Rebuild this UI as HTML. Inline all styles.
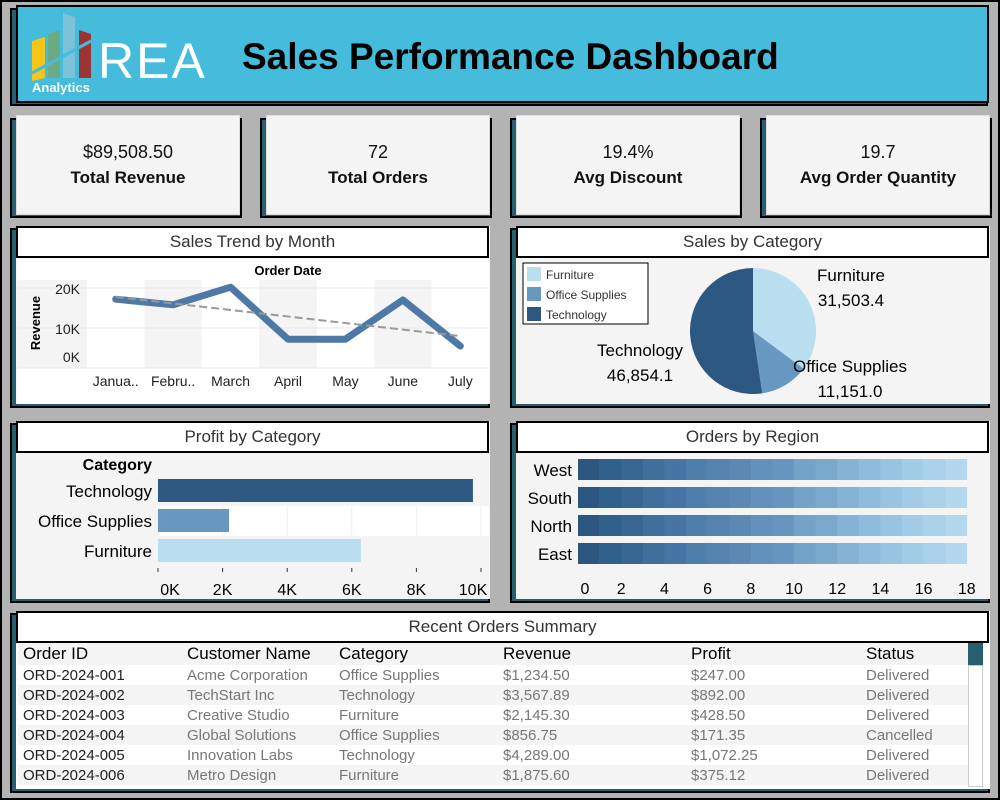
<!DOCTYPE html>
<html><head><meta charset="utf-8">
<style>
*{box-sizing:border-box;margin:0;padding:0}
body{width:1000px;height:800px;background:#b3b3b3;font-family:"Liberation Sans",sans-serif;position:relative;overflow:hidden}
#frame{position:absolute;left:0;top:0;width:1000px;height:800px;border:2px solid #000}
.abs{position:absolute}
.shadow{position:absolute;background:#275f6e;border:2px solid #000}
.card{position:absolute;background:#f4f4f4;border:1px solid #ddd}
.kpi{text-align:center;color:#111}
.kpi .v{font-size:18px;margin-top:26px}
.kpi .l{font-size:17px;font-weight:bold;margin-top:5px}
.ptitle{position:absolute;background:#fff;border:2px solid #000;text-align:center;font-size:17px;color:#333;line-height:28px}
.pbody{position:absolute;background:#f4f4f4}
table{border-collapse:collapse;font-size:15px}
</style></head><body>
<div id="frame"></div>

<!-- header -->
<div class="shadow" style="left:10px;top:8px;width:978px;height:98px"></div>
<div class="abs" style="left:16px;top:5px;width:973px;height:98px;background:#45bcdc;border:2px solid #000">
  <svg class="abs" style="left:0;top:0" width="200" height="95">
    <polygon points="14,34 27,30 27,71 14,74" fill="#f5c518"/>
    <polygon points="30,27 42,23 42,71 30,71" fill="#6aab84"/>
    <polygon points="45,6 57,10 57,71 45,71" fill="#7cc3da"/>
    <polygon points="61,23 73,27 73,71 61,71" fill="#9b3434"/>
    <line x1="14" y1="66" x2="73" y2="34" stroke="#45bcdc" stroke-width="3"/>
    <text x="80" y="71" font-family="Liberation Sans,sans-serif" font-size="50" letter-spacing="2" fill="#fff">REA</text>
    <text x="14" y="85" font-family="Liberation Sans,sans-serif" font-size="13" font-weight="bold" fill="#fff">Analytics</text>
  </svg>
  <div class="abs" style="left:224px;top:29px;font-size:37px;font-weight:bold;color:#000">Sales Performance Dashboard</div>
</div>

<!-- KPIs -->
<div class="shadow" style="left:10px;top:118px;width:232px;height:100px"></div>
<div class="card kpi" style="left:16px;top:115px;width:224px;height:100px"><div class="v">$89,508.50</div><div class="l">Total Revenue</div></div>
<div class="shadow" style="left:260px;top:118px;width:232px;height:100px"></div>
<div class="card kpi" style="left:266px;top:115px;width:224px;height:100px"><div class="v">72</div><div class="l">Total Orders</div></div>
<div class="shadow" style="left:510px;top:118px;width:232px;height:100px"></div>
<div class="card kpi" style="left:516px;top:115px;width:224px;height:100px"><div class="v">19.4%</div><div class="l">Avg Discount</div></div>
<div class="shadow" style="left:760px;top:118px;width:232px;height:100px"></div>
<div class="card kpi" style="left:766px;top:115px;width:224px;height:100px"><div class="v">19.7</div><div class="l">Avg Order Quantity</div></div>

<!-- panels -->
<div class="shadow" style="left:10px;top:228px;width:480px;height:180px"></div>
<div class="pbody" style="left:16px;top:226px;width:474px;height:178px"></div>
<div class="ptitle" style="left:16px;top:226px;width:473px;height:32px">Sales Trend by Month</div>

<div class="shadow" style="left:510px;top:228px;width:480px;height:180px"></div>
<div class="pbody" style="left:516px;top:226px;width:474px;height:178px"></div>
<div class="ptitle" style="left:516px;top:226px;width:473px;height:32px">Sales by Category</div>

<div class="shadow" style="left:10px;top:423px;width:480px;height:180px"></div>
<div class="pbody" style="left:16px;top:421px;width:474px;height:178px"></div>
<div class="ptitle" style="left:16px;top:421px;width:473px;height:32px">Profit by Category</div>

<div class="shadow" style="left:510px;top:423px;width:480px;height:180px"></div>
<div class="pbody" style="left:516px;top:421px;width:474px;height:178px"></div>
<div class="ptitle" style="left:516px;top:421px;width:473px;height:32px">Orders by Region</div>

<div class="shadow" style="left:10px;top:613px;width:980px;height:180px"></div>
<div class="pbody" style="left:16px;top:611px;width:974px;height:178px;background:#fff"></div>
<div class="ptitle" style="left:16px;top:611px;width:973px;height:32px">Recent Orders Summary</div>

<svg id="charts" class="abs" style="left:0;top:0" width="1000" height="800"></svg>

<!-- table -->
<div class="abs" style="left:18px;top:643px;width:950px;height:146px;overflow:hidden">
<table id="tbl" style="width:950px;table-layout:fixed"></table>
</div>
<div class="abs" style="left:968px;top:643px;width:15px;height:22px;background:#275f6e"></div>
<div class="abs" style="left:968px;top:665px;width:15px;height:122px;background:#fff;border:1px solid #ccc"></div>

<script>
const NS="http://www.w3.org/2000/svg";
const svg=document.getElementById('charts');
function mk(tag,attrs,parent){const e=document.createElementNS(NS,tag);for(const k in attrs)e.setAttribute(k,attrs[k]);(parent||svg).appendChild(e);return e;}
function txt(x,y,s,attrs){const e=mk('text',Object.assign({x:x,y:y,'font-family':'Liberation Sans,sans-serif'},attrs||{}));e.textContent=s;return e;}

// ---- Sales trend data ----
const months=["Janua..","Febru..","March","April","May","June","July"];
const revenue=[17200,15800,20200,7200,7200,17000,5500];
const revTicks=[0,10000,20000];
const revTickLabels=["0K","10K","20K"];

// ---- Sales by category ----
const pieCats=["Furniture","Office Supplies","Technology"];
const pieVals=[31503.4,11151.0,46854.1];
const pieLabels=["31,503.4","11,151.0","46,854.1"];

// ---- Profit by category ----
const profitCats=["Technology","Office Supplies","Furniture"];
const profitVals=[9750,2200,6280];
const profitTicks=[0,2000,4000,6000,8000,10000];
const profitTickLabels=["0K","2K","4K","6K","8K","10K"];

// ---- Orders by region ----
const regions=["West","South","North","East"];
const regionOrders=[18,18,18,18];
const regionTicks=[0,2,4,6,8,10,12,14,16,18];

// ---- Table ----
const orderIds=["ORD-2024-001","ORD-2024-002","ORD-2024-003","ORD-2024-004","ORD-2024-005","ORD-2024-006"];
const customers=["Acme Corporation","TechStart Inc","Creative Studio","Global Solutions","Innovation Labs","Metro Design"];
const categories=["Office Supplies","Technology","Furniture","Office Supplies","Technology","Furniture"];
const revenues=["$1,234.50","$3,567.89","$2,145.30","$856.75","$4,289.00","$1,875.60"];
const profits=["$247.00","$892.00","$428.50","$171.35","$1,072.25","$375.12"];
const statuses=["Delivered","Delivered","Delivered","Cancelled","Delivered","Delivered"];

const colors={"Furniture":"#b9def0","Office Supplies":"#6898c0","Technology":"#2c5882"};

// ===== Line chart =====
(function(){
  const px0=87,px1=489,ptop=280,pbot=368;
  mk('rect',{x:17,y:259,width:472,height:21,fill:'#fff'});
  mk('rect',{x:px0,y:ptop,width:px1-px0,height:pbot-ptop,fill:'#fff'});
  mk('rect',{x:17,y:pbot,width:472,height:36,fill:'#fff'});
  const cw=(px1-px0)/months.length;
  const xs=i=>px0+cw*(i+0.5);
  const ys=v=>368-v*0.004;
  months.forEach((m,i)=>{
    if(i%2===1){const r=mk('rect',{x:px0+cw*i,y:ptop,width:cw,height:pbot-ptop,fill:'#f4f4f4'});
      }
    const t=txt(xs(i),386,m,{'font-size':14,'text-anchor':'middle',fill:'#222'});
    
  });
  revTicks.forEach((v,i)=>{
    mk('line',{x1:17,x2:px1,y1:ys(v),y2:ys(v),stroke:'#e8e8e8','stroke-width':1});
    const t=txt(80,ys(v)+(v===0?-6:6),revTickLabels[i],{'font-size':14,'text-anchor':'end',fill:'#222'});
    
  });
  const ot=txt((px0+px1)/2,275,"Order Date",{'font-size':13,'font-weight':'bold','text-anchor':'middle',fill:'#000'});
  
  const yt=txt(0,0,"Revenue",{'font-size':13,'font-weight':'bold','text-anchor':'middle',fill:'#000',transform:'translate(40,323) rotate(-90)'});
  
  const pts=revenue.map((v,i)=>xs(i)+','+ys(v)).join(' ');
  const pl=mk('polyline',{points:pts,fill:'none',stroke:'#4e79a7','stroke-width':7,'stroke-linejoin':'round','stroke-linecap':'round'});
  
  const n=revenue.length;let sx=0,sy=0,sxy=0,sxx=0;
  revenue.forEach((v,i)=>{sx+=i;sy+=v;sxy+=i*v;sxx+=i*i;});
  const b=(n*sxy-sx*sy)/(n*sxx-sx*sx),a=(sy-b*sx)/n;
  const tl=mk('line',{x1:xs(0),y1:ys(a),x2:xs(n-1),y2:ys(a+b*(n-1)),stroke:'#999','stroke-width':2,'stroke-dasharray':'8,4'});
  
})();

// ===== Pie =====
(function(){
  const cx=753,cy=331,r=63;const total=pieVals.reduce((a,b)=>a+b,0);
  let ang=0;
  pieVals.forEach((v,i)=>{
    const a0=ang,a1=ang+v/total*2*Math.PI;ang=a1;
    const p=(a)=>[cx+r*Math.sin(a),cy-r*Math.cos(a)];
    const [x0,y0]=p(a0),[x1,y1]=p(a1);
    const s=mk('path',{d:`M${cx},${cy} L${x0},${y0} A${r},${r} 0 ${a1-a0>Math.PI?1:0} 1 ${x1},${y1} Z`,fill:colors[pieCats[i]]});
    
    
  });
  const lp=[[851,281],[850,372],[640,356]];
  pieCats.forEach((c,i)=>{
    const t1=txt(lp[i][0],lp[i][1],c,{'font-size':17,'text-anchor':'middle',fill:'#000'});
    
    const t2=txt(lp[i][0],lp[i][1]+25,pieLabels[i],{'font-size':17,'text-anchor':'middle',fill:'#000'});
    
  });
  const lg=mk('rect',{x:523,y:263,width:125,height:61,fill:'#fff',stroke:'#000','stroke-width':1});
  
  pieCats.forEach((c,i)=>{
    mk('rect',{x:527,y:267+i*20,width:14,height:14,fill:colors[c]});
    const t=txt(546,279+i*20,c,{'font-size':12,fill:'#333'});
    
  });
})();

// ===== Profit bars =====
(function(){
  const x0=158,k=0.0323;const xs=v=>x0+v*k;
  mk('rect',{x:158,y:506,width:331,height:30,fill:'#fff'});
  profitTicks.forEach((v,i)=>{
    mk('line',{x1:xs(v),x2:xs(v),y1:506,y2:536,stroke:'#eee'});
    mk('line',{x1:xs(v),x2:xs(v),y1:568,y2:572,stroke:'#333'});
    const t=txt(xs(v)+(i===0?12:i===5?-8:0),595,profitTickLabels[i],{'font-size':16,'text-anchor':'middle',fill:'#000'});
    
  });
  const ht=txt(152,470,"Category",{'font-size':16,'font-weight':'bold','text-anchor':'end',fill:'#000'});
  
  profitCats.forEach((c,i)=>{
    const y=479+i*30;
    const b=mk('rect',{x:x0,y:y,width:xs(profitVals[i])-x0,height:23,fill:colors[c]});
    
    const t=txt(152,y+18,c,{'font-size':17,'text-anchor':'end',fill:'#000'});
    
  });
})();

// ===== Orders by region =====
(function(){
  const x0=578,k=21.6;const xs=v=>x0+v*k;
  const shades=["#2c5680","#30608c","#386693","#3f6f9d","#4674a4","#4e7eab","#5583b0","#5b89b4","#6191bc","#6797c0","#73a3c9","#79a9cd","#84b3d6","#8dbbdb","#97c4e1","#a1cce7","#a9d1ea","#b3d8ee"];
  regions.forEach((r,ri)=>{
    const y=459+ri*28;
    for(let j=0;j<regionOrders[ri];j++){
      const s=mk('rect',{x:xs(j),y:y,width:k+0.3,height:21,fill:shades[j%shades.length]});
      
    }
    const t=txt(572,y+17,r,{'font-size':17,'text-anchor':'end',fill:'#000'});
    
  });
  regionTicks.forEach(v=>{
    const t=txt(xs(v)+(v===0?7:0),594,String(v),{'font-size':16,'text-anchor':'middle',fill:'#000'});
    
  });
})();

// ===== Table =====
(function(){
  const tbl=document.getElementById('tbl');
  const heads=["Order ID","Customer Name","Category","Revenue","Profit","Status"];
  const widths=[169,152,164,188,175,102];
  let tr=document.createElement('tr');
  
  
  tr.style.background='#f4f4f4';tr.style.height='22px';
  heads.forEach((h,i)=>{const td=document.createElement('th');td.textContent=h;td.style.cssText=`text-align:left;font-size:17px;font-weight:normal;color:#000;width:${widths[i]}px;padding-left:${i===0?5:0}px;white-space:nowrap`;tr.appendChild(td);});
  tbl.appendChild(tr);
  orderIds.forEach((id,r)=>{
    const row=document.createElement('tr');
    
    
    row.style.background=r%2?'#f4f4f4':'#fff';row.style.height='20px';
    [id,customers[r],categories[r],revenues[r],profits[r],statuses[r]].forEach((v,i)=>{
      const td=document.createElement('td');td.textContent=v;
      td.style.cssText=`color:${i===0?'#222':'#777'};padding-left:${i===0?5:0}px;font-size:15px;white-space:nowrap`;
      row.appendChild(td);
    });
    tbl.appendChild(row);
  });
})();
</script>
</body></html>
